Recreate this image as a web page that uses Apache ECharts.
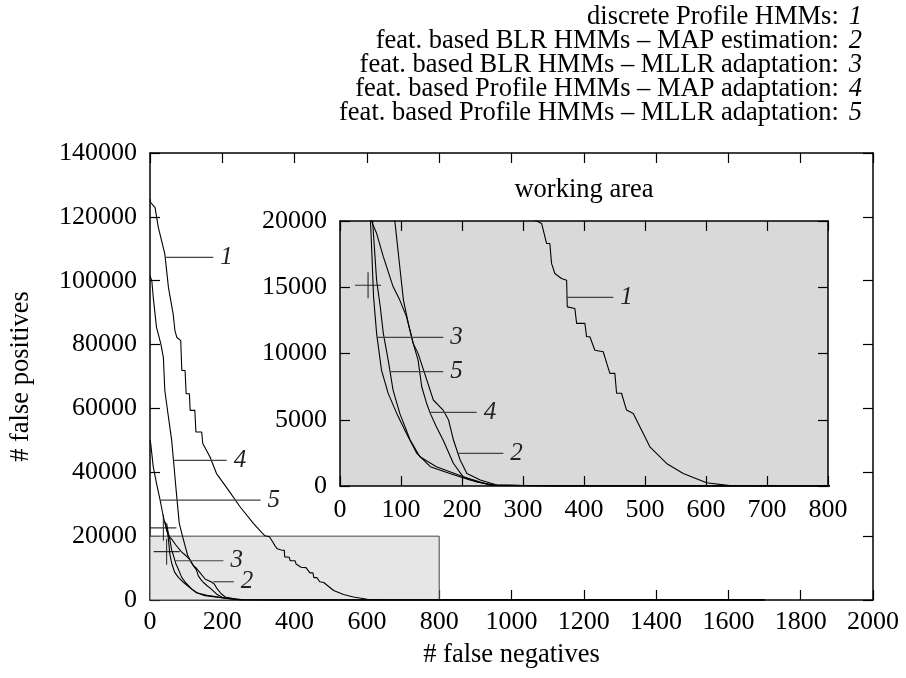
<!DOCTYPE html>
<html>
<head>
<meta charset="utf-8">
<script src="https://cdn.jsdelivr.net/npm/echarts@6/dist/echarts.min.js"></script>
<style>html,body{margin:0;padding:0;background:#fff}#c{width:906px;height:678px}</style>
</head>
<body>
<div id="c"></div>
<script>
// ---------- data ----------
const legendNames = [
  'discrete Profile HMMs:',
  'feat. based BLR HMMs \u2013 MAP estimation:',
  'feat. based BLR HMMs \u2013 MLLR adaptation:',
  'feat. based Profile HMMs \u2013 MAP adaptation:',
  'feat. based Profile HMMs \u2013 MLLR adaptation:'
];
const curveIds = ['1', '2', '3', '4', '5'];

const curve1 = [[0,125500],[2,124500],[14,122900],[23,116700],[41,108400],[51,97900],[64,89600],[69,84400],[74,82300],[85,81250],[88,71900],[97,71900],[100,64600],[109,64600],[111,59400],[124,59400],[127,52600],[143,52600],[146,49000],[166,44800],[184,39600],[217,34400],[249,29200],[286,24000],[310,21000],[318,20100],[330.5,19820],[338.7,18300],[344,18300],[346.8,16800],[352.2,16040],[363,15660],[371.5,15530],[372.6,13520],[385,13400],[387.9,12270],[401.5,12270],[404.2,11260],[409.6,11260],[417.8,10250],[431.5,10130],[442.4,8500],[450.6,8500],[453.4,7000],[461.5,7000],[469.7,5730],[480.7,5480],[491.6,4470],[508,2960],[535.4,1700],[562.7,950],[601,250],[639,30],[700,0],[1700,0]];
const curve2 = [[46,24000],[52,19950],[60,19070],[71,17310],[87,15050],[98,14030],[109,12780],[120,10760],[128,10010],[137,8750],[153,6490],[169,5730],[178,4980],[186,3470],[197,1960],[208,950],[230,450],[257,75],[350,0],[1700,0]];
const curve3 = [[42,24500],[50,19950],[52,17810],[55,14290],[60,11520],[68,8750],[79,6990],[93,5480],[109,3970],[126,2460],[148,1460],[180,950],[213,450],[246,75],[350,0],[1700,0]];
const curve4 = [[0,101500],[5,100000],[9,94800],[18,85400],[30,80200],[37,76000],[41,65600],[51,57300],[60,50000],[65,43700],[74,32300],[81,24000],[90,19950],[98,16550],[104,14030],[112,12270],[120,10760],[128,9500],[134,7490],[142,6230],[148,5480],[158,4470],[169,3470],[186,1700],[202,690],[224,300],[257,50],[350,0],[1700,0]];
const curve5 = [[0,50000],[2,49000],[9,41700],[18,36500],[28,31250],[37,26000],[46,21900],[53.5,19950],[60,15540],[66,13530],[71,11520],[79,9500],[87,7240],[98,5480],[115,3470],[131,2210],[158,1460],[202,700],[246,75],[350,0],[1700,0]];
const curves = [curve1, curve2, curve3, curve4, curve5];

const crossPoints = [[37,22600],[46,15150]];

// label lines: [id, xStart, xEnd, y]
const mainLabelLines = [['1',44,175,107300],['4',65,212,43750],['5',28,306,31250],['3',69,203,12300],['2',175,232,5720]];
const insetLabelLines = [['1',371.5,448,14240],['3',60,169.4,11220],['5',83.6,169.4,8630],['4',147.5,224,5560],['2',194,267.7,2465]];

const workingArea = [[0,0],[800,20000]];

const mainXTicks = [0,200,400,600,800,1000,1200,1400,1600,1800,2000];
const mainYTicks = [0,20000,40000,60000,80000,100000,120000,140000];
const insetXTicks = [0,100,200,300,400,500,600,700,800];
const insetYTicks = [0,5000,10000,15000,20000];

// ---------- chart ----------
const FONT = 'Liberation Serif';
const TICK_FS = 26;
const TEXT_FS = 26.5;
const chart = echarts.init(document.getElementById('c'), null, {renderer: 'canvas'});

function valAxis(ticks, opts) {
  return Object.assign({
    type: 'value',
    min: ticks[0], max: ticks[ticks.length - 1], interval: ticks[1] - ticks[0],
    splitLine: {show: false},
    axisLine: {show: true, onZero: false, lineStyle: {color: '#000', width: 1.5}},
    axisTick: {show: true, inside: true, length: 10, lineStyle: {color: '#000', width: 1.2}},
    axisLabel: {show: true, color: '#000', fontFamily: FONT, fontSize: TICK_FS, formatter: v => String(v)}
  }, opts);
}
function mirror(ticks, pos, gridIndex) {
  return valAxis(ticks, {position: pos, gridIndex: gridIndex, axisLabel: {show: false}});
}
function lab(margin) {
  return {color: '#000', fontFamily: FONT, fontSize: TICK_FS, margin: margin, formatter: v => String(v)};
}

const series = [];
series.push({
  type: 'line', xAxisIndex: 0, yAxisIndex: 0, data: [], z: 1, silent: true,
  markArea: {silent: true, itemStyle: {color: '#e6e6e6', borderColor: '#444', borderWidth: 1},
    data: [[{coord: workingArea[0]}, {coord: workingArea[1]}]]}
});
curves.forEach((c, i) => {
  [[0, 0], [2, 2]].forEach(([xi, yi]) => {
    series.push({
      type: 'line', name: curveIds[i], xAxisIndex: xi, yAxisIndex: yi, data: c,
      showSymbol: false, symbol: 'none', clip: true, z: 3,
      lineStyle: {color: '#000', width: 1.1}, animation: false
    });
  });
});
function labelSeries(list, xi, yi) {
  list.forEach(([id, x1, x2, y]) => {
    series.push({
      type: 'line', xAxisIndex: xi, yAxisIndex: yi, data: [[x1, y], [x2, y]],
      symbol: 'none', z: 4, clip: false,
      lineStyle: {color: '#444', width: 1.2},
      endLabel: {show: true, formatter: id, distance: 7, color: '#222',
        fontFamily: FONT, fontStyle: 'italic', fontSize: 25}
    });
  });
}
labelSeries(mainLabelLines, 0, 0);
labelSeries(insetLabelLines, 2, 2);
[[0, 0], [2, 2]].forEach(([xi, yi]) => {
  series.push({
    type: 'scatter', xAxisIndex: xi, yAxisIndex: yi, data: crossPoints, clip: true, z: 4,
    symbol: 'path://M0,10 L20,10 M10,0 L10,20', symbolSize: 26,
    itemStyle: {color: 'none', borderColor: '#000', borderWidth: 1.1}
  });
});

const titles = [{
  text: 'working area', left: 584, top: 177, textAlign: 'center', padding: 0,
  textStyle: {fontFamily: FONT, fontSize: TEXT_FS, fontWeight: 'normal', color: '#000'}
}];
legendNames.forEach((n, i) => {
  titles.push({
    text: '{a|' + n + '}  {b|' + curveIds[i] + '}', right: 44, top: 4 + 24 * i, padding: 0,
    textStyle: {fontWeight: 'normal', rich: {
      a: {fontFamily: FONT, fontSize: TEXT_FS, fontWeight: 'normal', color: '#000'},
      b: {fontFamily: FONT, fontSize: TEXT_FS, fontWeight: 'normal', color: '#000', fontStyle: 'italic'}
    }}
  });
});

chart.setOption({
  animation: false,
  backgroundColor: '#fff',
  title: titles,
  grid: [
    {left: 150, top: 153, right: 33, bottom: 78, show: false},
    {left: 340, top: 221, right: 78, bottom: 192, show: true, backgroundColor: '#d9d9d9', borderWidth: 0, z: 2}
  ],
  xAxis: [
    valAxis(mainXTicks, {gridIndex: 0, position: 'bottom', name: '# false negatives', nameLocation: 'middle', nameGap: 42,
      nameTextStyle: {fontFamily: FONT, fontSize: TEXT_FS, color: '#000'}, axisLabel: lab(9)}),
    mirror(mainXTicks, 'top', 0),
    valAxis(insetXTicks, {gridIndex: 1, position: 'bottom', z: 5, axisLabel: lab(11)}),
    Object.assign(mirror(insetXTicks, 'top', 1), {z: 5})
  ],
  yAxis: [
    valAxis(mainYTicks, {gridIndex: 0, position: 'left', name: '# false positives', nameLocation: 'middle', nameGap: 115,
      nameTextStyle: {fontFamily: FONT, fontSize: TEXT_FS, color: '#000'}, axisLabel: lab(13)}),
    mirror(mainYTicks, 'right', 0),
    valAxis(insetYTicks, {gridIndex: 1, position: 'left', z: 5, axisLabel: lab(13)}),
    Object.assign(mirror(insetYTicks, 'right', 1), {z: 5})
  ],
  series: series
});
</script>
</body>
</html>
